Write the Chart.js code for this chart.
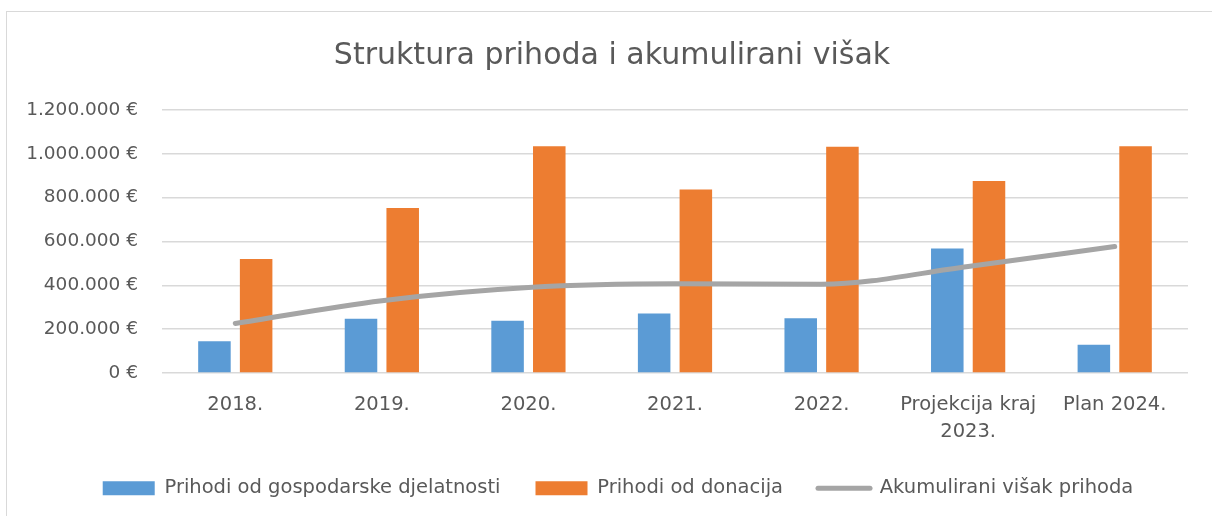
<!DOCTYPE html>
<html>
<head>
<meta charset="utf-8">
<script src="https://cdn.jsdelivr.net/npm/chart.js@4/dist/chart.umd.min.js"></script>
<style>
  html, body { margin: 0; padding: 0; background: #fff; overflow: hidden; }
  #frame { position: absolute; left: 6px; top: 11px; width: 1400px; height: 700px; border: 1.5px solid #d9d9d9; box-sizing: border-box; }
  #wrap { position: absolute; left: 0; top: 0; width: 1212px; height: 516px; }
</style>
</head>
<body>
<div id="frame"></div>
<div id="wrap"><canvas id="c"></canvas></div>
<script>
const categories = ['2018.', '2019.', '2020.', '2021.', '2022.', ['Projekcija kraj', '2023.'], 'Plan 2024.'];
const prihodiGospodarske = [145000, 247000, 238000, 272000, 250000, 568000, 129000];
const prihodiDonacija = [520000, 753000, 1035000, 837000, 1032000, 876000, 1035000];
const akumuliraniVisak = [226000, 330000, 390000, 407000, 405000, 486000, 577000];
const seriesNames = ['Prihodi od gospodarske djelatnosti', 'Prihodi od donacija', 'Akumulirani višak prihoda'];
const yMin = 0, yMax = 1200000, yStep = 200000;
const titleText = 'Struktura prihoda i akumulirani višak';

const TXT = '#595959';
const FONT = 'DejaVu Sans';
const PAD_L = 20, PAD_R = 24, PAD_B = 8;
const PLOT_LEFT = 162, PLOT_BOTTOM = 371.5, LEGEND_TOP = 442;
const TITLE_SHIFT = 8, LEGEND_SHIFT = 14;

function fmtEuro(v) {
  const s = Math.round(v).toString().replace(/\B(?=(\d{3})+(?!\d))/g, '.');
  return s + ' €';
}

const shiftPlugin = {
  id: 'shiftBlocks',
  afterLayout(chart) {
    if (chart.titleBlock) { chart.titleBlock.left += TITLE_SHIFT; chart.titleBlock.right += TITLE_SHIFT; }
    if (chart.legend) { chart.legend.left += LEGEND_SHIFT; chart.legend.right += LEGEND_SHIFT; }
  }
};

new Chart(document.getElementById('c'), {
  type: 'bar',
  plugins: [shiftPlugin],
  data: {
    labels: categories,
    datasets: [
      { label: seriesNames[0], data: prihodiGospodarske, backgroundColor: '#5B9BD5', order: 1,
        categoryPercentage: 0.569, barPercentage: 0.78 },
      { label: seriesNames[1], data: prihodiDonacija, backgroundColor: '#ED7D31', order: 1,
        categoryPercentage: 0.569, barPercentage: 0.78 },
      { type: 'line', label: seriesNames[2], data: akumuliraniVisak, borderColor: '#A5A5A5',
        backgroundColor: '#A5A5A5', borderWidth: 5, pointRadius: 0, cubicInterpolationMode: 'monotone',
        borderCapStyle: 'round', borderJoinStyle: 'round', fill: false, order: 0 }
    ]
  },
  options: {
    responsive: true,
    maintainAspectRatio: false,
    animation: false,
    layout: { padding: { top: 0, left: PAD_L, right: PAD_R, bottom: PAD_B } },
    plugins: {
      title: {
        display: true, text: titleText, color: TXT,
        font: { family: FONT, size: 30, weight: 'normal', lineHeight: 1.2 },
        padding: { top: 38, bottom: 36 }
      },
      legend: {
        position: 'bottom',
        labels: {
          color: TXT,
          font: { family: FONT, size: 19.5, lineHeight: 1.2 },
          usePointStyle: true,
          pointStyleWidth: 52,
          boxHeight: 14,
          padding: 35,
          sort: (a, b) => a.datasetIndex - b.datasetIndex,
          generateLabels: (chart) => {
            const items = Chart.defaults.plugins.legend.labels.generateLabels(chart);
            items.forEach(it => {
              if (it.datasetIndex === 2) {
                it.pointStyle = 'line'; it.lineWidth = 5; it.strokeStyle = '#A5A5A5'; it.lineCap = 'round';
              } else {
                it.pointStyle = 'rect'; it.lineWidth = 0;
                it.strokeStyle = it.fillStyle;
              }
            });
            return items;
          }
        }
      },
      tooltip: { enabled: false }
    },
    scales: {
      x: {
        grid: { display: false, drawTicks: false },
        border: { display: false },
        ticks: { color: TXT, font: { family: FONT, size: 19.5, lineHeight: 1.35 }, padding: 19, maxRotation: 0, autoSkip: false },
        afterFit: (s) => { s.height = LEGEND_TOP - PLOT_BOTTOM; }
      },
      y: {
        min: yMin, max: yMax,
        grid: { color: '#D9D9D9', lineWidth: 1.5, drawTicks: false },
        border: { display: false },
        ticks: { stepSize: yStep, color: TXT, font: { family: FONT, size: 18.5 }, padding: 24,
          callback: (v) => fmtEuro(v) },
        afterFit: (s) => { s.width = PLOT_LEFT - PAD_L; }
      }
    }
  }
});
</script>
</body>
</html>
